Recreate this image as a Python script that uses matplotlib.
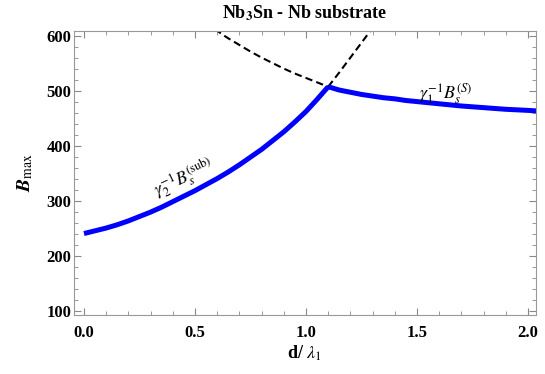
import matplotlib
matplotlib.use("Agg")
import matplotlib.pyplot as plt
from matplotlib.ticker import MultipleLocator

plt.rcParams['font.family'] = ['Liberation Serif', 'DejaVu Serif']
plt.rcParams['mathtext.fontset'] = 'stix'

# Rising branch (substrate-limited), solid
x_sub = [0.0, 0.05, 0.1, 0.15, 0.2, 0.25, 0.3, 0.35, 0.4, 0.45, 0.5, 0.55,
         0.6, 0.65, 0.7, 0.75, 0.8, 0.85, 0.9, 0.95, 1.0, 1.05, 1.1]
y_sub = [240, 245, 250, 256, 263, 271, 279, 288, 298, 308, 318, 329,
         340, 352, 365, 379, 393, 409, 425, 443, 462, 484, 507]
# Falling branch (surface-limited), solid
x_s = [1.1, 1.15, 1.2, 1.25, 1.3, 1.35, 1.4, 1.45, 1.5, 1.6, 1.7, 1.8, 1.9, 2.0, 2.04]
y_s = [507, 501, 497, 493, 490, 487, 485, 482, 480, 476, 472, 469, 466, 464, 463]
# Dashed continuations
x_s_dash = [0.59, 0.62, 0.65, 0.7, 0.75, 0.8, 0.85, 0.9, 0.95, 1.0, 1.05, 1.1]
y_s_dash = [612, 603, 595, 583, 571, 560, 550, 540, 531, 523, 515, 507]
x_sub_dash = [1.1, 1.15, 1.2, 1.25, 1.3, 1.31]
y_sub_dash = [507, 533, 560, 587, 614, 619]

title = r"Nb$_\mathbf{3}$Sn - Nb substrate"
xlabel = r"d/ $\lambda_1$"
ylabel = r"$\mathbfit{B}_{\mathrm{max}}$"
xticks = [0.0, 0.5, 1.0, 1.5, 2.0]
yticks = [100, 200, 300, 400, 500, 600]

fig = plt.figure(figsize=(5.45, 3.74), dpi=100)
ax = fig.add_axes([0.1358, 0.158, 0.983 - 0.1358, 0.918 - 0.158])

ax.plot(x_s_dash, y_s_dash, color='black', lw=1.5, ls=(0, (3.5, 2)))
ax.plot(x_sub_dash, y_sub_dash, color='black', lw=1.5, ls=(0, (3.5, 2)))
ax.plot(x_sub, y_sub, color='#0000ff', lw=3.6, solid_capstyle='butt', solid_joinstyle='miter')
ax.plot(x_s, y_s, color='#0000ff', lw=3.6, solid_capstyle='butt', solid_joinstyle='miter')

ax.set_xlim(-0.045, 2.035)
ax.set_ylim(92, 609)
ax.set_xticks(xticks)
ax.set_xticklabels([f"{v:.1f}" for v in xticks], fontweight='bold', fontsize=12)
ax.set_yticks(yticks)
ax.set_yticklabels([str(v) for v in yticks], fontweight='bold', fontsize=12)
ax.xaxis.set_minor_locator(MultipleLocator(0.1))
ax.yaxis.set_minor_locator(MultipleLocator(20))
ax.tick_params(which='both', direction='in', top=True, right=True, color='#888888')
ax.tick_params(which='major', length=5, width=0.8)
ax.tick_params(which='minor', length=3, width=0.6)
ax.tick_params(axis='x', pad=7)
ax.tick_params(axis='y', pad=2)
for s in ax.spines.values():
    s.set_color('#999999')
    s.set_linewidth(0.8)

ax.set_title(title, fontweight='bold', fontsize=13, pad=9)
ax.set_xlabel(xlabel, fontweight='bold', fontsize=13, labelpad=2)
ax.set_ylabel(ylabel, fontsize=14, labelpad=8)

ax.text(0.45, 341, r"$\gamma_2^{-1}B_s^{(\mathrm{sub})}$", fontsize=13, rotation=25,
        ha='center', va='center')
ax.text(1.63, 494, r"$\gamma_1^{-1}B_s^{(S)}$", fontsize=13, ha='center', va='center')

fig.savefig("out.png", dpi=100)
